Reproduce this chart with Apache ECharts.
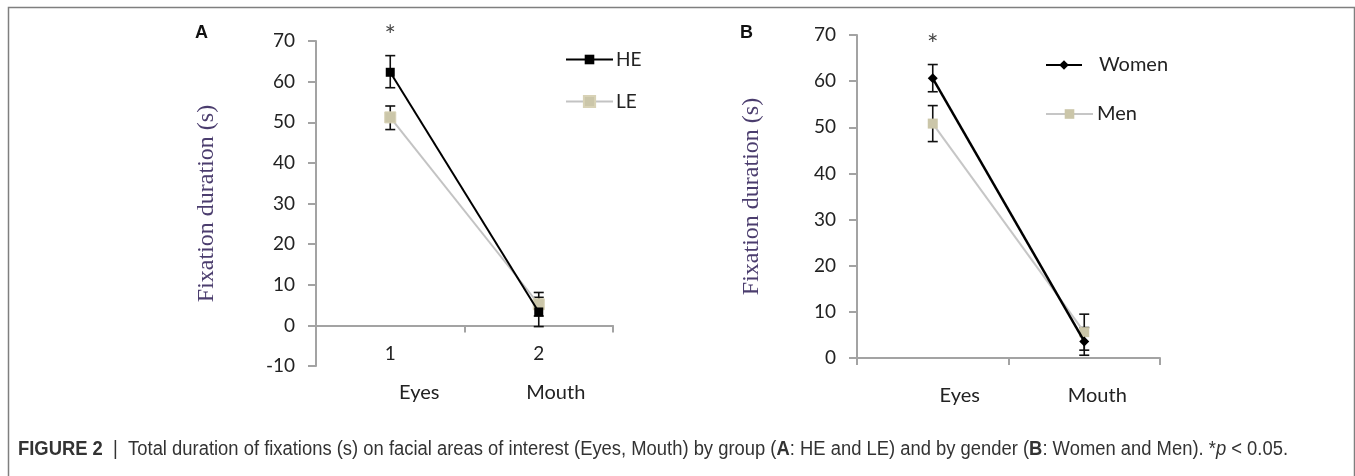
<!DOCTYPE html>
<html>
<head>
    <meta charset="utf-8">
    <title>Fixation duration</title>
    <script src="https://cdn.jsdelivr.net/npm/echarts@6/dist/echarts.min.js"></script>
    <style>
        html, body { margin: 0; padding: 0; background: #fff; }
    </style>
</head>
<body>
<div id="main" style="width: 1355px;height:476px;"></div>
<script type="text/javascript">

    // ---- data ----
    var categories = ['1', '2'];
    var areaNames = ['Eyes', 'Mouth'];

    // panel A: by group
    var heMean = [62.3, 3.3];
    var heLow = [58.5, -0.3];
    var heHigh = [66.4, 6.9];
    var leMean = [51.2, 5.2];
    var leLow = [48.2, 2.3];
    var leHigh = [54.0, 8.1];

    // panel B: by gender
    var womenMean = [60.6, 3.6];
    var womenLow = [57.7, 0.6];
    var womenHigh = [63.6, 6.6];
    var menMean = [50.8, 5.6];
    var menLow = [46.9, 1.7];
    var menHigh = [54.7, 9.5];

    // y axis ranges
    var yRangeA = [-10, 70];
    var yRangeB = [0, 70];
    var yStep = 10;

    // significance stars [category index, y]
    var starA = [[0, 72.8]];
    var starB = [[0, 69.3]];

    var tickFont = 'Lato, "Open Sans", sans-serif';
    var axisGrey = '#a3a3a3';
    var tanFill = '#cbc6a9';
    var capFont = '"Liberation Sans", Arial, sans-serif';

    function errData(low, high) {
        return low.map(function (v, i) { return [i, v, high[i]]; });
    }

    function errRender(params, api) {
        var x = api.value(0);
        var lo = api.coord([x, api.value(1)]);
        var hi = api.coord([x, api.value(2)]);
        var w = 5;
        var st = { stroke: '#111', lineWidth: 1.6 };
        return {
            type: 'group',
            children: [
                { type: 'line', shape: { x1: lo[0], y1: lo[1], x2: hi[0], y2: hi[1] }, style: st },
                { type: 'line', shape: { x1: hi[0] - w, y1: hi[1], x2: hi[0] + w, y2: hi[1] }, style: st },
                { type: 'line', shape: { x1: lo[0] - w, y1: lo[1], x2: lo[0] + w, y2: lo[1] }, style: st }
            ]
        };
    }

    function yAxisFor(gridIndex, range, nameGap) {
        return {
            gridIndex: gridIndex,
            type: 'value',
            min: range[0],
            max: range[1],
            interval: yStep,
            name: 'Fixation duration (s)',
            nameLocation: 'middle',
            nameGap: nameGap,
            nameTextStyle: { fontFamily: '"Liberation Serif", serif', fontSize: 24, color: '#4b3d6e' },
            axisLine: { show: true, lineStyle: { color: axisGrey, width: 2 } },
            axisTick: { show: true, length: 8, lineStyle: { color: axisGrey, width: 2 } },
            axisLabel: { fontFamily: tickFont, fontSize: 19, color: '#222', margin: 21 },
            splitLine: { show: false }
        };
    }

    function shifted(offsets) {
        // nudges category names sideways the way they sit in the figure
        var rich = {};
        offsets.forEach(function (o, i) {
            rich['c' + i] = { fontFamily: tickFont, fontSize: 20, color: '#222', padding: [0, 0, 0, o * 2] };
        });
        return {
            formatter: function (v) { return '{c' + areaNames.indexOf(v) + '|' + v + '}'; },
            rich: rich
        };
    }

    function legendAt(name, left, top, itemWidth, itemHeight, fontSize, textPad) {
        return {
            data: [name], left: left, top: top, padding: 0, orient: 'vertical',
            itemWidth: itemWidth, itemHeight: itemHeight, selectedMode: false,
            textStyle: { fontFamily: tickFont, fontSize: fontSize, color: '#222', padding: [0, 0, 0, textPad] }
        };
    }

    var myChart = echarts.init(document.getElementById('main'));

    var namesA = shifted([29, 17]);
    var namesB = shifted([27, 13]);

    var starLabel = { show: true, position: 'inside', offset: [0, 7], formatter: '*', fontFamily: tickFont, fontSize: 27, color: '#111' };

    myChart.setOption({
        animation: false,
        backgroundColor: '#fff',
        title: [
            { text: 'A', left: 195, top: 24, padding: 0, textStyle: { fontFamily: capFont, fontSize: 18, fontWeight: 'bold', color: '#111' } },
            { text: 'B', left: 740, top: 24, padding: 0, textStyle: { fontFamily: capFont, fontSize: 18, fontWeight: 'bold', color: '#111' } }
        ],
        legend: [
            legendAt('HE', 565, 50, 47, 12, 19, -2),
            legendAt('LE', 565, 92, 47, 14, 19, -2),
            legendAt('Women', 1045, 55, 36, 12, 20, 12),
            legendAt('Men', 1045, 104, 47, 12, 20, -1)
        ],
        grid: [
            { left: 316, top: 41, width: 297, height: 325 },
            { left: 857, top: 35, width: 303, height: 323 }
        ],
        xAxis: [
            {
                gridIndex: 0, type: 'category', data: categories,
                axisLine: { onZero: true, lineStyle: { color: axisGrey, width: 2 } },
                axisTick: { show: true, length: 7, lineStyle: { color: axisGrey, width: 2 } },
                axisLabel: { fontFamily: tickFont, fontSize: 19, color: '#222', margin: -22 }
            },
            {
                gridIndex: 0, type: 'category', data: areaNames, position: 'bottom',
                axisLine: { show: false, onZero: false }, axisTick: { show: false },
                axisLabel: Object.assign({ margin: 17 }, namesA)
            },
            {
                gridIndex: 1, type: 'category', data: areaNames,
                axisLine: { onZero: true, lineStyle: { color: axisGrey, width: 2 } },
                axisTick: { show: true, length: 7, lineStyle: { color: axisGrey, width: 2 } },
                axisLabel: Object.assign({ margin: 28 }, namesB)
            }
        ],
        yAxis: [
            yAxisFor(0, yRangeA, 97),
            yAxisFor(1, yRangeB, 93)
        ],
        series: [
            { type: 'custom', xAxisIndex: 0, yAxisIndex: 0, renderItem: errRender, data: errData(heLow, heHigh), z: 1 },
            { type: 'custom', xAxisIndex: 0, yAxisIndex: 0, renderItem: errRender, data: errData(leLow, leHigh), z: 1 },
            {
                name: 'LE', type: 'line', xAxisIndex: 0, yAxisIndex: 0, data: leMean, z: 3,
                symbol: 'rect', symbolSize: 11,
                lineStyle: { color: '#c3c3c3', width: 2 },
                itemStyle: { color: tanFill, borderColor: '#d8d2b6', borderWidth: 1 }
            },
            {
                name: 'HE', type: 'line', xAxisIndex: 0, yAxisIndex: 0, data: heMean, z: 4,
                symbol: 'rect', symbolSize: 9,
                lineStyle: { color: '#000', width: 2 },
                itemStyle: { color: '#000' }
            },
            { type: 'custom', xAxisIndex: 2, yAxisIndex: 1, renderItem: errRender, data: errData(womenLow, womenHigh), z: 1 },
            { type: 'custom', xAxisIndex: 2, yAxisIndex: 1, renderItem: errRender, data: errData(menLow, menHigh), z: 1 },
            {
                name: 'Men', type: 'line', xAxisIndex: 2, yAxisIndex: 1, data: menMean, z: 3,
                symbol: 'rect', symbolSize: 10,
                lineStyle: { color: '#c6c6c6', width: 2 },
                itemStyle: { color: tanFill }
            },
            {
                name: 'Women', type: 'line', xAxisIndex: 2, yAxisIndex: 1, data: womenMean, z: 4,
                symbol: 'diamond', symbolSize: 10,
                lineStyle: { color: '#000', width: 2.5 },
                itemStyle: { color: '#000' }
            },
            { type: 'scatter', xAxisIndex: 0, yAxisIndex: 0, data: starA, symbolSize: 0, clip: false, silent: true, label: starLabel },
            { type: 'scatter', xAxisIndex: 2, yAxisIndex: 1, data: starB, symbolSize: 0, clip: false, silent: true, label: starLabel }
        ],
        graphic: [
            {
                type: 'rect', silent: true, z: 0,
                shape: { x: 8.5, y: 7.5, width: 1346, height: 490 },
                style: { fill: null, stroke: '#7f7f7f', lineWidth: 1.5 }
            },
            {
                type: 'text', x: 18, y: 439, scaleX: 0.92, silent: true,
                style: {
                    text: '{b|FIGURE 2}  |  Total duration of fixations (s) on facial areas of interest (Eyes, Mouth) by group ({b|A}: HE and LE) and by gender ({b|B}: Women and Men). *{i|p} < 0.05.',
                    fontFamily: capFont,
                    fontSize: 20,
                    fill: '#333',
                    rich: {
                        b: { fontWeight: 'bold', fontFamily: capFont, fontSize: 20, fill: '#333' },
                        i: { fontStyle: 'italic', fontFamily: capFont, fontSize: 20, fill: '#333' }
                    }
                }
            }
        ]
    });

</script>
</body>
</html>
